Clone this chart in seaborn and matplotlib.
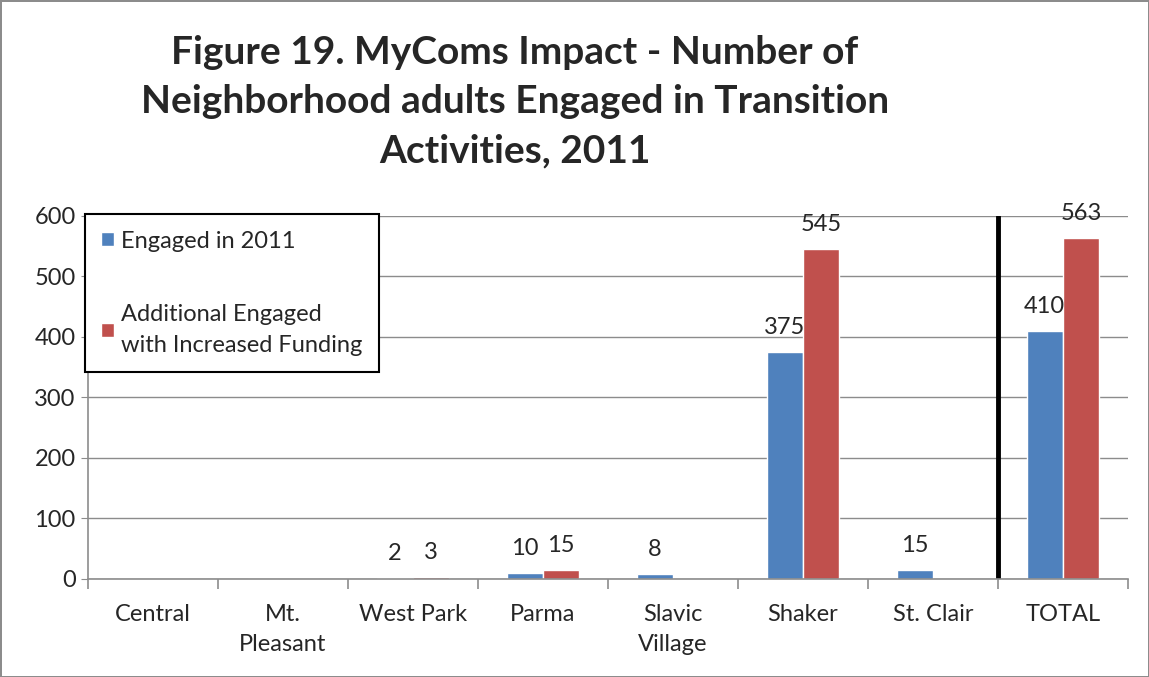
import matplotlib
matplotlib.use("Agg")
import matplotlib.pyplot as plt
import seaborn as sns
import pandas as pd
import numpy as np

categories = ["Central", "Mt.\nPleasant", "West Park", "Parma", "Slavic\nVillage", "Shaker", "St. Clair", "TOTAL"]
engaged_2011 = [0, 0, 2, 10, 8, 375, 15, 410]
additional = [0, 0, 3, 15, 0, 545, 0, 563]
series_names = ["Engaged in 2011", "Additional Engaged\nwith Increased Funding"]
colors = ["#4F81BD", "#C0504D"]
title = "Figure 19. MyComs Impact - Number of\nNeighborhood adults Engaged in Transition\nActivities, 2011"

sns.set_style("white")
plt.rcParams['font.family'] = ['Lato', 'DejaVu Sans']

df = pd.DataFrame({
    "category": categories * 2,
    "value": engaged_2011 + additional,
    "series": [series_names[0]] * len(categories) + [series_names[1]] * len(categories),
})

fig = plt.figure(figsize=(11.49, 6.77), dpi=100, edgecolor="#8c8c8c", linewidth=2)
ax = fig.add_axes([0.0766, 0.1448, 0.9817 - 0.0766, 0.681 - 0.1448])

sns.barplot(data=df, x="category", y="value", hue="series", palette=colors,
            width=0.56, ax=ax, saturation=1, legend=True)

ax.set_ylim(0, 600)
ax.set_xlim(-0.5, len(categories) - 0.5)
ax.set_yticks(np.arange(0, 601, 100))
ax.yaxis.grid(True, color="#8c8c8c", linewidth=1)
ax.set_axisbelow(True)
ax.set_xlabel("")
ax.set_ylabel("")
for s in ["top", "right"]:
    ax.spines[s].set_visible(False)
for s in ["left", "bottom"]:
    ax.spines[s].set_color("#8c8c8c")
    ax.spines[s].set_linewidth(1.2)

ax.tick_params(axis="y", labelsize=17, length=5, color="#8c8c8c", left=True, pad=4)
ax.tick_params(axis="x", which="major", labelsize=17, length=0, pad=18)
for t in ax.get_xticklabels():
    t.set_linespacing(1.55)
ax.set_xticks(np.arange(-0.5, len(categories), 1), minor=True)
ax.tick_params(axis="x", which="minor", length=7, color="#8c8c8c", width=1.2, bottom=True)

for container, vals in zip(ax.containers, [engaged_2011, additional]):
    labels = [str(v) if v > 0 else "" for v in vals]
    ax.bar_label(container, labels=labels, padding=10, fontsize=17)

ax.axvline(6.5, color="black", linewidth=3.5)

leg = ax.legend(loc="upper left", bbox_to_anchor=(-0.003, 1.005), borderaxespad=0,
                fontsize=17, frameon=True, fancybox=False, labelspacing=2.2,
                handlelength=0.55, handleheight=0.55, handletextpad=0.3,
                borderpad=0.7)
leg.get_frame().set_edgecolor("black")
leg.get_frame().set_linewidth(1.5)
leg.get_frame().set_alpha(1)
for t in leg.get_texts():
    t.set_linespacing(1.6)

fig.text(0.448, 0.85, title, ha="center", va="center", fontsize=28,
         fontweight="bold", linespacing=1.5)

fig.savefig("out.png", dpi=100, edgecolor=fig.get_edgecolor())
